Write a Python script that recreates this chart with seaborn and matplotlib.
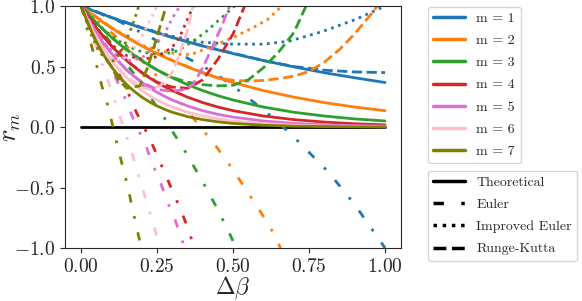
import numpy as np
import matplotlib
matplotlib.use("Agg")
import matplotlib.pyplot as plt
import seaborn as sns
from matplotlib.lines import Line2D

sns.set_style("ticks")
plt.rcParams["font.family"] = ["cmr10"]
plt.rcParams["mathtext.fontset"] = "cm"
plt.rcParams["axes.formatter.use_mathtext"] = True

colors = ["tab:blue", "tab:orange", "tab:green", "tab:red", "orchid", "pink", "olive"]
labels = ["m = %d" % m for m in range(1, 8)]
method_names = ["Theoretical", "Euler", "Improved Euler", "Runge-Kutta"]

# theoretical curves
h_th = [0, 0.025, 0.05, 0.075, 0.1, 0.125, 0.15, 0.175, 0.2, 0.225, 0.25, 0.275, 0.3,
        0.35, 0.4, 0.45, 0.5, 0.6, 0.7, 0.8, 0.9, 1.0]
r_th = [
    [1, .975, .951, .928, .905, .882, .861, .839, .819, .799, .779, .760, .741, .705, .670, .638, .607, .549, .497, .449, .407, .368],
    [1, .951, .905, .861, .819, .779, .741, .705, .670, .638, .607, .577, .549, .497, .449, .407, .368, .301, .247, .202, .165, .135],
    [1, .928, .861, .799, .741, .687, .638, .592, .549, .509, .472, .438, .407, .350, .301, .259, .223, .165, .122, .091, .067, .050],
    [1, .905, .819, .741, .670, .607, .549, .497, .449, .407, .368, .333, .301, .247, .202, .165, .135, .091, .061, .041, .027, .018],
    [1, .882, .779, .687, .607, .535, .472, .417, .368, .325, .287, .253, .223, .174, .135, .105, .082, .050, .030, .018, .011, .007],
    [1, .861, .741, .638, .549, .472, .407, .350, .301, .259, .223, .192, .165, .122, .091, .067, .050, .027, .015, .008, .005, .002],
    [1, .839, .705, .592, .497, .417, .350, .294, .247, .207, .174, .146, .122, .086, .061, .043, .030, .015, .007, .004, .002, .001],
]

# Euler (dash-dot)
h_eu = [
    [0, 0.128, 0.237, 0.357, 0.43, 0.5, 0.565, 0.63, 0.695, 0.813, 0.9, 1.0],
    [0, 0.1, 0.2, 0.3, 0.341, 0.396, 0.444, 0.496, 0.546, 0.59, 0.634, 0.656],
    [0, 0.084, 0.15, 0.2, 0.235, 0.261, 0.284, 0.305, 0.33, 0.349, 0.374, 0.396, 0.412, 0.434, 0.456, 0.472, 0.492, 0.51],
    [0, 0.05, 0.1, 0.15, 0.182, 0.202, 0.219, 0.237, 0.256, 0.272, 0.289, 0.306, 0.322, 0.338, 0.355, 0.372],
    [0, 0.05, 0.1, 0.15, 0.166, 0.199, 0.217, 0.232, 0.248, 0.264, 0.28, 0.294, 0.311, 0.326, 0.341],
    [0, 0.05, 0.104, 0.117, 0.13, 0.144, 0.158, 0.169, 0.182, 0.193, 0.207, 0.22, 0.231, 0.243, 0.258],
    [0, 0.046, 0.068, 0.079, 0.09, 0.1, 0.111, 0.12, 0.13, 0.141, 0.15, 0.161, 0.169, 0.179, 0.188, 0.199],
]
r_eu = [
    [1, 0.87, 0.73, 0.56, 0.46, 0.34, 0.21, 0.08, -0.07, -0.37, -0.64, -1.0],
    [1, 0.78, 0.55, 0.29, 0.16, -0.01, -0.16, -0.34, -0.53, -0.70, -0.88, -1.0],
    [1, 0.74, 0.52, 0.35, 0.22, 0.12, 0.04, -0.055, -0.15, -0.23, -0.34, -0.43, -0.51, -0.61, -0.71, -0.80, -0.90, -1.0],
    [1, 0.79, 0.56, 0.31, 0.12, 0.02, -0.06, -0.16, -0.27, -0.36, -0.46, -0.56, -0.65, -0.75, -0.86, -1.0],
    [1, 0.74, 0.48, 0.21, 0.10, -0.08, -0.18, -0.29, -0.38, -0.48, -0.59, -0.68, -0.78, -0.89, -1.0],
    [1, 0.66, 0.27, 0.17, 0.07, -0.04, -0.14, -0.23, -0.34, -0.44, -0.55, -0.65, -0.75, -0.85, -1.0],
    [1, 0.56, 0.34, 0.25, 0.16, 0.05, -0.07, -0.16, -0.26, -0.37, -0.46, -0.58, -0.69, -0.78, -0.89, -1.0],
]

# Improved Euler (dotted)
h_ie = [
    [0, 0.1, 0.2, 0.3, 0.4, 0.5, 0.6, 0.685, 0.795, 0.904, 1.0],
    [0, 0.1, 0.193, 0.26, 0.325, 0.363, 0.434, 0.5, 0.565, 0.614, 0.652, 0.66],
    [0, 0.05, 0.1, 0.15, 0.2, 0.25, 0.3, 0.325, 0.368, 0.412, 0.456, 0.505],
    [0, 0.05, 0.1, 0.15, 0.2, 0.25, 0.3, 0.325, 0.357, 0.37],
    [0, 0.04, 0.08, 0.12, 0.16, 0.2, 0.24, 0.28, 0.3, 0.325],
    [0, 0.03, 0.06, 0.1, 0.13, 0.16, 0.2, 0.23, 0.25],
    [0, 0.03, 0.06, 0.09, 0.11, 0.14, 0.17, 0.19],
]
r_ie = [
    [1, 0.905, 0.82, 0.75, 0.70, 0.685, 0.685, 0.71, 0.79, 0.89, 1.0],
    [1, 0.82, 0.68, 0.63, 0.60, 0.60, 0.67, 0.74, 0.82, 0.89, 0.98, 1.0],
    [1, 0.86, 0.75, 0.67, 0.62, 0.60, 0.615, 0.64, 0.71, 0.79, 0.89, 1.0],
    [1, 0.82, 0.68, 0.59, 0.56, 0.58, 0.66, 0.75, 0.93, 1.0],
    [1, 0.82, 0.68, 0.59, 0.55, 0.57, 0.66, 0.80, 0.90, 1.0],
    [1, 0.82, 0.68, 0.57, 0.55, 0.60, 0.75, 0.90, 1.0],
    [1, 0.78, 0.62, 0.54, 0.55, 0.66, 0.85, 1.0],
]

# Runge-Kutta (dashed)
h_rk = [
    [0, 0.1, 0.2, 0.3, 0.4, 0.5, 0.6, 0.7, 0.8, 0.9, 1.0],
    [0, 0.1, 0.2, 0.3, 0.4, 0.45, 0.5, 0.55, 0.6, 0.65, 0.7, 0.75, 0.8, 0.85, 0.9, 0.95, 0.975],
    [0, 0.05, 0.1, 0.15, 0.2, 0.25, 0.3, 0.35, 0.4, 0.45, 0.5, 0.55, 0.6, 0.65, 0.7, 0.74],
    [0, 0.05, 0.1, 0.15, 0.2, 0.25, 0.3, 0.35, 0.4, 0.45, 0.5, 0.538],
    [0, 0.05, 0.1, 0.15, 0.2, 0.25, 0.3, 0.34, 0.368, 0.4, 0.428, 0.46, 0.489],
    [0, 0.05, 0.1, 0.15, 0.2, 0.226, 0.26, 0.3, 0.325, 0.35, 0.368],
    [0, 0.025, 0.05, 0.075, 0.1, 0.12, 0.15, 0.193, 0.22, 0.25, 0.28],
]
r_rk = [
    [1, 0.905, 0.82, 0.74, 0.67, 0.61, 0.55, 0.50, 0.47, 0.455, 0.45],
    [1, 0.82, 0.67, 0.55, 0.45, 0.405, 0.385, 0.38, 0.385, 0.40, 0.42, 0.46, 0.535, 0.64, 0.77, 0.92, 1.0],
    [1, 0.86, 0.74, 0.64, 0.55, 0.47, 0.41, 0.37, 0.35, 0.34, 0.345, 0.39, 0.49, 0.62, 0.78, 1.0],
    [1, 0.82, 0.67, 0.55, 0.45, 0.37, 0.33, 0.32, 0.39, 0.56, 0.77, 1.0],
    [1, 0.78, 0.61, 0.47, 0.37, 0.31, 0.295, 0.31, 0.35, 0.49, 0.64, 0.82, 1.0],
    [1, 0.74, 0.55, 0.41, 0.33, 0.31, 0.34, 0.45, 0.61, 0.80, 1.0],
    [1, 0.84, 0.70, 0.59, 0.50, 0.40, 0.32, 0.34, 0.50, 0.75, 1.0],
]

dashdot = (0, (3, 5, 1, 5))
styles = ["-", dashdot, ":", "--"]

fig = plt.figure(figsize=(5.82, 3.01), dpi=100)
ax = fig.add_axes([0.112, 0.176, 0.577, 0.804])

ax.plot([0, 1], [0, 0], color="black", lw=2)

lw = 2
for i in range(7):
    sns.lineplot(x=h_th, y=r_th[i], color=colors[i], lw=lw, ax=ax, sort=False)
    sns.lineplot(x=h_eu[i], y=r_eu[i], color=colors[i], lw=lw, linestyle=dashdot, ax=ax, sort=False)
    sns.lineplot(x=h_ie[i], y=r_ie[i], color=colors[i], lw=lw, linestyle=":", ax=ax, sort=False)
    sns.lineplot(x=h_rk[i], y=r_rk[i], color=colors[i], lw=lw, linestyle="--", ax=ax, sort=False)

ax.set_xlim(-0.0525, 1.0525)
ax.set_ylim(-1, 1)
ax.set_xticks([0, 0.25, 0.5, 0.75, 1.0])
ax.set_yticks([-1, -0.5, 0, 0.5, 1])
ax.tick_params(labelsize=14)
ax.set_xlabel(r"$\Delta\beta$", fontsize=17, labelpad=-0.8)
ax.set_ylabel(r"$r_m$", fontsize=19, labelpad=-6)

h1 = [Line2D([], [], color=c, lw=2.5) for c in colors]
fig.legend(h1, labels, loc="upper left", bbox_to_anchor=(0.735, 0.978),
           borderaxespad=0, fontsize=10, labelspacing=0.68, handlelength=2.3)
h2 = [Line2D([], [], color="black", lw=2.5, linestyle=s) for s in styles]
fig.legend(h2, method_names, loc="upper left", bbox_to_anchor=(0.735, 0.433),
           borderaxespad=0, fontsize=10, labelspacing=0.68, handlelength=2.3)

fig.savefig("out.png", dpi=100)
